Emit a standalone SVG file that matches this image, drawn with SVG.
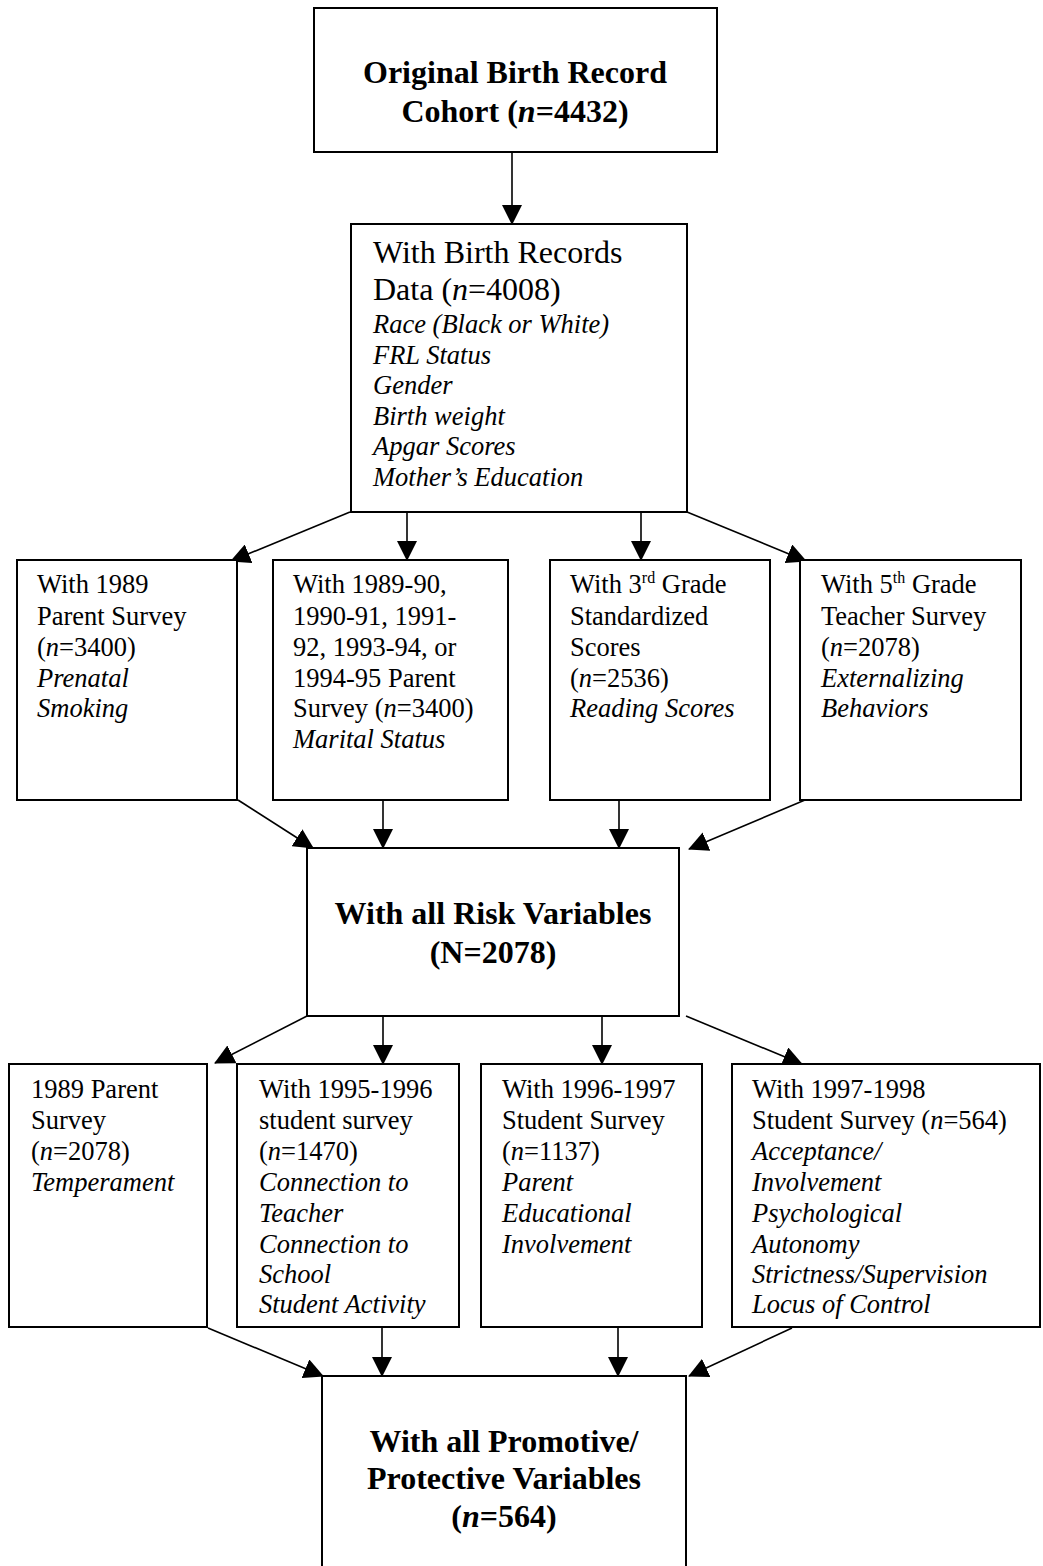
<svg xmlns="http://www.w3.org/2000/svg" width="1043" height="1566" viewBox="0 0 1043 1566">
<style>
  .box { fill: #ffffff; stroke: #000000; stroke-width: 2; }
  .conn { stroke: #000000; stroke-width: 1.6; fill: none; marker-end: url(#arrow); }
  text { font-family: "Liberation Serif", "Times New Roman", serif; fill: #000000; }
  .title { font-size: 32px; font-weight: bold; text-anchor: middle; }
  .big { font-size: 32px; }
  .t { font-size: 26.5px; }
  .i { font-style: italic; }
  .sup { font-size: 16px; }
</style>
<defs>
  <marker id="arrow" markerUnits="userSpaceOnUse" markerWidth="20" markerHeight="20" viewBox="0 0 20 20" refX="19" refY="10" orient="auto">
    <path d="M0,0 L20,10 L0,20 z" fill="#000000"/>
  </marker>
</defs>
<rect width="1043" height="1566" fill="#ffffff"/>

<g id="connectors">
  <line class="conn" x1="512" y1="152" x2="512" y2="224"/>
  <line class="conn" x1="350" y1="512" x2="231" y2="561"/>
  <line class="conn" x1="407" y1="512" x2="407" y2="560"/>
  <line class="conn" x1="641" y1="512" x2="641" y2="560"/>
  <line class="conn" x1="687" y1="512" x2="806" y2="561"/>

  <line class="conn" x1="238" y1="800" x2="313" y2="848"/>
  <line class="conn" x1="383" y1="800" x2="383" y2="848"/>
  <line class="conn" x1="619" y1="800" x2="619" y2="848"/>
  <line class="conn" x1="805" y1="800" x2="689" y2="849"/>

  <line class="conn" x1="307" y1="1016" x2="215" y2="1063"/>
  <line class="conn" x1="383" y1="1016" x2="383" y2="1064"/>
  <line class="conn" x1="602" y1="1016" x2="602" y2="1064"/>
  <line class="conn" x1="686" y1="1016" x2="802" y2="1064"/>

  <line class="conn" x1="208" y1="1328" x2="323" y2="1376"/>
  <line class="conn" x1="382" y1="1328" x2="382" y2="1376"/>
  <line class="conn" x1="618" y1="1328" x2="618" y2="1376"/>
  <line class="conn" x1="792" y1="1328" x2="689" y2="1376"/>
</g>

<g id="node-original">
  <rect class="box" x="314" y="8" width="403" height="144"/>
  <text class="title" x="515" y="83">Original Birth Record</text>
  <text class="title" x="515" y="122">Cohort (<tspan class="i">n</tspan>=4432)</text>
</g>

<g id="node-birth-records">
  <rect class="box" x="351" y="224" width="336" height="288"/>
  <text class="big" x="373" y="263">With Birth Records</text>
  <text class="big" x="373" y="300">Data (<tspan class="i">n</tspan>=4008)</text>
  <text class="t i" x="373" y="333">Race (Black or White)</text>
  <text class="t i" x="373" y="363.5">FRL Status</text>
  <text class="t i" x="373" y="394">Gender</text>
  <text class="t i" x="373" y="424.5">Birth weight</text>
  <text class="t i" x="373" y="455">Apgar Scores</text>
  <text class="t i" x="373" y="485.5">Mother’s Education</text>
</g>

<g id="node-1989-parent">
  <rect class="box" x="17" y="560" width="220" height="240"/>
  <text class="t" x="37" y="593">With 1989</text>
  <text class="t" x="37" y="625">Parent Survey</text>
  <text class="t" x="37" y="656">(<tspan class="i">n</tspan>=3400)</text>
  <text class="t i" x="37" y="687">Prenatal</text>
  <text class="t i" x="37" y="717">Smoking</text>
</g>

<g id="node-parent-surveys">
  <rect class="box" x="273" y="560" width="235" height="240"/>
  <text class="t" x="293" y="593">With 1989-90,</text>
  <text class="t" x="293" y="625">1990-91, 1991-</text>
  <text class="t" x="293" y="656">92, 1993-94, or</text>
  <text class="t" x="293" y="687">1994-95 Parent</text>
  <text class="t" x="293" y="717">Survey (<tspan class="i">n</tspan>=3400)</text>
  <text class="t i" x="293" y="748">Marital Status</text>
</g>

<g id="node-3rd-grade">
  <rect class="box" x="550" y="560" width="220" height="240"/>
  <text class="t" x="570" y="593">With 3<tspan class="sup" dy="-10">rd</tspan><tspan dy="10"> Grade</tspan></text>
  <text class="t" x="570" y="625">Standardized</text>
  <text class="t" x="570" y="656">Scores</text>
  <text class="t" x="570" y="687">(<tspan class="i">n</tspan>=2536)</text>
  <text class="t i" x="570" y="717">Reading Scores</text>
</g>

<g id="node-5th-grade">
  <rect class="box" x="800" y="560" width="221" height="240"/>
  <text class="t" x="821" y="593">With 5<tspan class="sup" dy="-10">th</tspan><tspan dy="10"> Grade</tspan></text>
  <text class="t" x="821" y="625">Teacher Survey</text>
  <text class="t" x="821" y="656">(<tspan class="i">n</tspan>=2078)</text>
  <text class="t i" x="821" y="687">Externalizing</text>
  <text class="t i" x="821" y="717">Behaviors</text>
</g>

<g id="node-risk">
  <rect class="box" x="307" y="848" width="372" height="168"/>
  <text class="title" x="493" y="924">With all Risk Variables</text>
  <text class="title" x="493" y="963">(N=2078)</text>
</g>

<g id="node-temperament">
  <rect class="box" x="9" y="1064" width="198" height="263"/>
  <text class="t" x="31" y="1098">1989 Parent</text>
  <text class="t" x="31" y="1129">Survey</text>
  <text class="t" x="31" y="1160">(<tspan class="i">n</tspan>=2078)</text>
  <text class="t i" x="31" y="1191">Temperament</text>
</g>

<g id="node-1995">
  <rect class="box" x="237" y="1064" width="222" height="263"/>
  <text class="t" x="259" y="1098">With 1995-1996</text>
  <text class="t" x="259" y="1129">student survey</text>
  <text class="t" x="259" y="1160">(<tspan class="i">n</tspan>=1470)</text>
  <text class="t i" x="259" y="1191">Connection to</text>
  <text class="t i" x="259" y="1222">Teacher</text>
  <text class="t i" x="259" y="1253">Connection to</text>
  <text class="t i" x="259" y="1283">School</text>
  <text class="t i" x="259" y="1313">Student Activity</text>
</g>

<g id="node-1996">
  <rect class="box" x="481" y="1064" width="221" height="263"/>
  <text class="t" x="502" y="1098">With 1996-1997</text>
  <text class="t" x="502" y="1129">Student Survey</text>
  <text class="t" x="502" y="1160">(<tspan class="i">n</tspan>=1137)</text>
  <text class="t i" x="502" y="1191">Parent</text>
  <text class="t i" x="502" y="1222">Educational</text>
  <text class="t i" x="502" y="1253">Involvement</text>
</g>

<g id="node-1997">
  <rect class="box" x="732" y="1064" width="308" height="263"/>
  <text class="t" x="752" y="1098">With 1997-1998</text>
  <text class="t" x="752" y="1129">Student Survey (<tspan class="i">n</tspan>=564)</text>
  <text class="t i" x="752" y="1160">Acceptance/</text>
  <text class="t i" x="752" y="1191">Involvement</text>
  <text class="t i" x="752" y="1222">Psychological</text>
  <text class="t i" x="752" y="1253">Autonomy</text>
  <text class="t i" x="752" y="1283">Strictness/Supervision</text>
  <text class="t i" x="752" y="1313">Locus of Control</text>
</g>

<g id="node-promotive">
  <rect class="box" x="322" y="1376" width="364" height="260"/>
  <text class="title" x="504" y="1452">With all Promotive/</text>
  <text class="title" x="504" y="1489">Protective Variables</text>
  <text class="title" x="504" y="1527">(<tspan class="i">n</tspan>=564)</text>
</g>
</svg>
